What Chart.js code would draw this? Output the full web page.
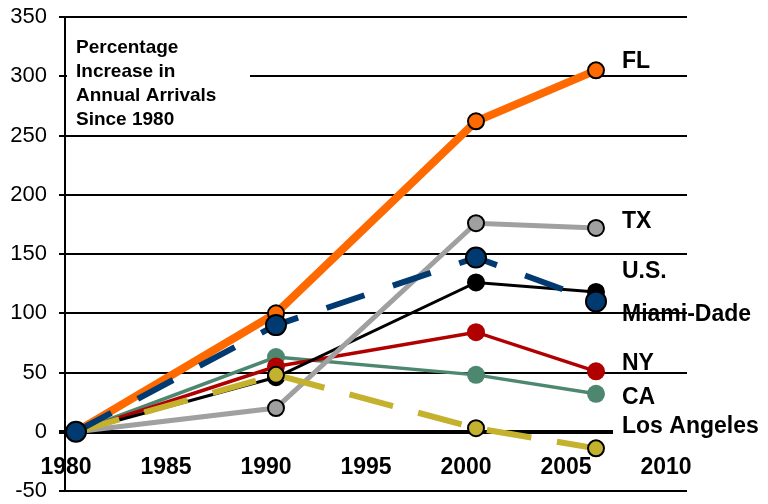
<!DOCTYPE html>
<html>
<head>
<meta charset="utf-8">
<script src="https://cdn.jsdelivr.net/npm/chart.js@4/dist/chart.umd.min.js"></script>
<style>
    html, body { margin: 0; padding: 0; background: #fff; }
    #wrap { width: 768px; height: 504px; position: relative; }
</style>
</head>
<body>
<div id="wrap"><canvas id="chart"></canvas></div>
<script>
    const years = [1980, 1990, 2000, 2006];
    const xTickLabels = [1980, 1985, 1990, 1995, 2000, 2005, 2010];

    const flValues = [0, 100, 262, 305];
    const txValues = [0, 20, 176, 172];
    const usValues = [0, 46, 126, 118];
    const miamiValues = [0, 90, 147, 110];
    const nyValues = [0, 55, 84, 51];
    const caValues = [0, 63, 48, 32];
    const laValues = [0, 48, 3, -14];

    const seriesNames = ['FL', 'TX', 'U.S.', 'Miami-Dade', 'NY', 'CA', 'Los Angeles'];
    const noteLines = ['Percentage', 'Increase in', 'Annual Arrivals', 'Since 1980'];

    const FONT = '"Liberation Sans", Arial, sans-serif';

    function toPoints(values) {
        return values.map((v, i) => ({x: years[i], y: v}));
    }

    function series(label, values, color, opts) {
        return Object.assign({
            label: label,
            data: toPoints(values),
            borderColor: color,
            backgroundColor: color,
            pointBackgroundColor: color,
            pointBorderColor: '#000',
            pointBorderWidth: 2,
            pointRadius: 8,
            tension: 0,
            xAxisID: 'x',
            yAxisID: 'y'
        }, opts);
    }

    // label anchors (y in data units), drawn to the right of the plot
    const labelAnchors = [312, 177, 135.5, 98.5, 57.5, 28.5, 4];

    const annotations = {
        id: 'annotations',
        afterDatasetsDraw(chart) {
            const ctx = chart.ctx;
            const yScale = chart.scales.y;
            const area = chart.chartArea;
            ctx.save();

            // note box top-left
            ctx.fillStyle = '#fff';
            ctx.fillRect(area.left + 2, area.top + 9, 183, 103);
            ctx.fillStyle = '#000';
            ctx.font = 'bold 19px ' + FONT;
            ctx.textBaseline = 'alphabetic';
            ctx.textAlign = 'left';
            noteLines.forEach((line, i) => {
                ctx.fillText(line, area.left + 11, area.top + 36 + i * 24);
            });

            // white patch behind "Los Angeles"
            const laY = yScale.getPixelForValue(labelAnchors[6]);
            ctx.fillStyle = '#fff';
            ctx.fillRect(613, laY - 14, area.right - 613 + 2, 28);

            ctx.fillStyle = '#000';
            ctx.font = 'bold 23px ' + FONT;
            ctx.textBaseline = 'middle';
            seriesNames.forEach((name, i) => {
                ctx.fillText(name, 622, yScale.getPixelForValue(labelAnchors[i]));
            });
            ctx.restore();
        }
    };

    new Chart(document.getElementById('chart'), {
        type: 'line',
        data: {
            datasets: [
                series(seriesNames[3], miamiValues, '#003a70', {
                    borderWidth: 6, borderDash: [40, 30], pointRadius: 10, order: 0
                }),
                series(seriesNames[6], laValues, '#c4b12e', {
                    borderWidth: 6, borderDash: [45, 26], order: 1
                }),
                series(seriesNames[1], txValues, '#a0a0a0', {borderWidth: 5, order: 2}),
                series(seriesNames[0], flValues, '#ff6a00', {borderWidth: 8, order: 3}),
                series(seriesNames[2], usValues, '#000000', {borderWidth: 3, order: 4}),
                series(seriesNames[4], nyValues, '#b00000', {
                    borderWidth: 3.5, pointBorderWidth: 0, pointRadius: 9, order: 5
                }),
                series(seriesNames[5], caValues, '#4e8770', {
                    borderWidth: 3.5, pointBorderWidth: 0, pointRadius: 9, order: 6
                })
            ]
        },
        options: {
            responsive: true,
            maintainAspectRatio: false,
            animation: false,
            events: [],
            layout: {padding: {top: 17, right: 81, bottom: 13, left: 0}},
            plugins: {
                legend: {display: false},
                tooltip: {enabled: false}
            },
            scales: {
                x: {
                    type: 'linear',
                    min: 1979.45,
                    max: 2010.55,
                    display: false
                },
                xl: {
                    type: 'linear',
                    axis: 'x',
                    min: 1979.95,
                    max: 2011.05,
                    position: {y: 0},
                    grid: {display: false},
                    border: {display: false},
                    ticks: {
                        includeBounds: false,
                        stepSize: 5,
                        autoSkip: false,
                        maxRotation: 0,
                        padding: 14,
                        color: '#000',
                        font: {family: FONT, size: 23, weight: 'bold'},
                        callback: (v) => xTickLabels.includes(v) ? String(v) : ''
                    }
                },
                y: {
                    min: -50,
                    max: 350,
                    afterFit: (scale) => {
                        scale.width = 65;
                        scale.paddingTop = 0;
                        scale.paddingBottom = 0;
                    },
                    grid: {
                        color: '#000',
                        lineWidth: (c) => c.tick && c.tick.value === 0 ? 4 : 2,
                        tickLength: 6
                    },
                    border: {color: '#000', width: 2},
                    ticks: {
                        stepSize: 50,
                        padding: 12,
                        color: '#000',
                        font: {family: FONT, size: 22}
                    }
                }
            }
        },
        plugins: [annotations]
    });
</script>
</body>
</html>
